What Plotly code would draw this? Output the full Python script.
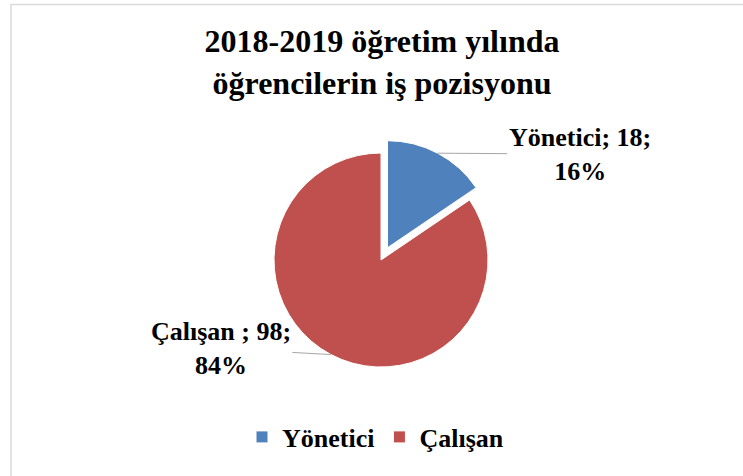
import math
import plotly.graph_objects as go

labels = ["Yönetici", "Çalışan"]
label_texts = ["Yönetici", "Çalışan "]
values = [18, 98]
percents = [16, 84]
colors = ["#4F81BD", "#C0504D"]
pulls = [0.13, 0.0]

W, H = 743, 476
cx, cy, r = 381, 260, 107  # pixel geometry of the pie
maxpull = max(pulls)
half = r * (1 + maxpull)
SERIF = "Liberation Serif, Times New Roman, serif"

fig = go.Figure()
fig.add_trace(go.Pie(
    labels=[f"<b>{l}</b>" for l in labels], values=values, sort=False,
    direction="clockwise", rotation=0,
    pull=pulls, textinfo="none", hoverinfo="label+value+percent",
    marker=dict(colors=colors, line=dict(color="white", width=1)),
    domain=dict(x=[(cx - half) / W, (cx + half) / W],
                y=[1 - (cy + half) / H, 1 - (cy - half) / H]),
))

offsets = [(142, 1), (-110, -6)]
total = sum(values)
cum = 0
for i, v in enumerate(values):
    mid = (cum + v / 2) / total * 2 * math.pi
    cum += v
    s, c = math.sin(mid), math.cos(mid)
    rr = r * (1 + pulls[i])
    px = cx + rr * s
    py = cy - rr * c
    fig.add_annotation(
        x=px / W, y=1 - py / H, xref="paper", yref="paper",
        text=f"<b>{label_texts[i]}; {v};<br>{percents[i]}%</b>",
        showarrow=True, arrowhead=0, arrowwidth=1, arrowcolor="#A6A6A6",
        ax=offsets[i][0], ay=offsets[i][1], standoff=0, align="center",
        font=dict(family=SERIF, size=26, color="black"),
    )

fig.add_shape(type="rect", xref="paper", yref="paper",
              x0=11 / W, x1=1.02, y0=-0.02, y1=1 - 4.5 / H,
              line=dict(color="#D9D9D9", width=1.5), fillcolor="rgba(0,0,0,0)")

fig.update_layout(
    width=W, height=H,
    margin=dict(l=0, r=0, t=0, b=0),
    paper_bgcolor="white", plot_bgcolor="white",
    title=dict(text="<b>2018-2019 öğretim yılında<br>öğrencilerin iş pozisyonu</b>",
               x=382 / W, xanchor="center", y=1 - 52 / H, yanchor="middle",
               yref="container",
               font=dict(family=SERIF, size=32, color="black")),
    showlegend=True,
    legend=dict(orientation="h", x=242 / W, xanchor="left", y=1 - 437 / H, yanchor="middle",
                font=dict(family=SERIF, size=26, color="black"),
                bgcolor="rgba(0,0,0,0)"),
)

fig.write_html("out.html", config={"displayModeBar": False},
               post_script="document.body.style.margin='0';document.body.style.padding='0';")
